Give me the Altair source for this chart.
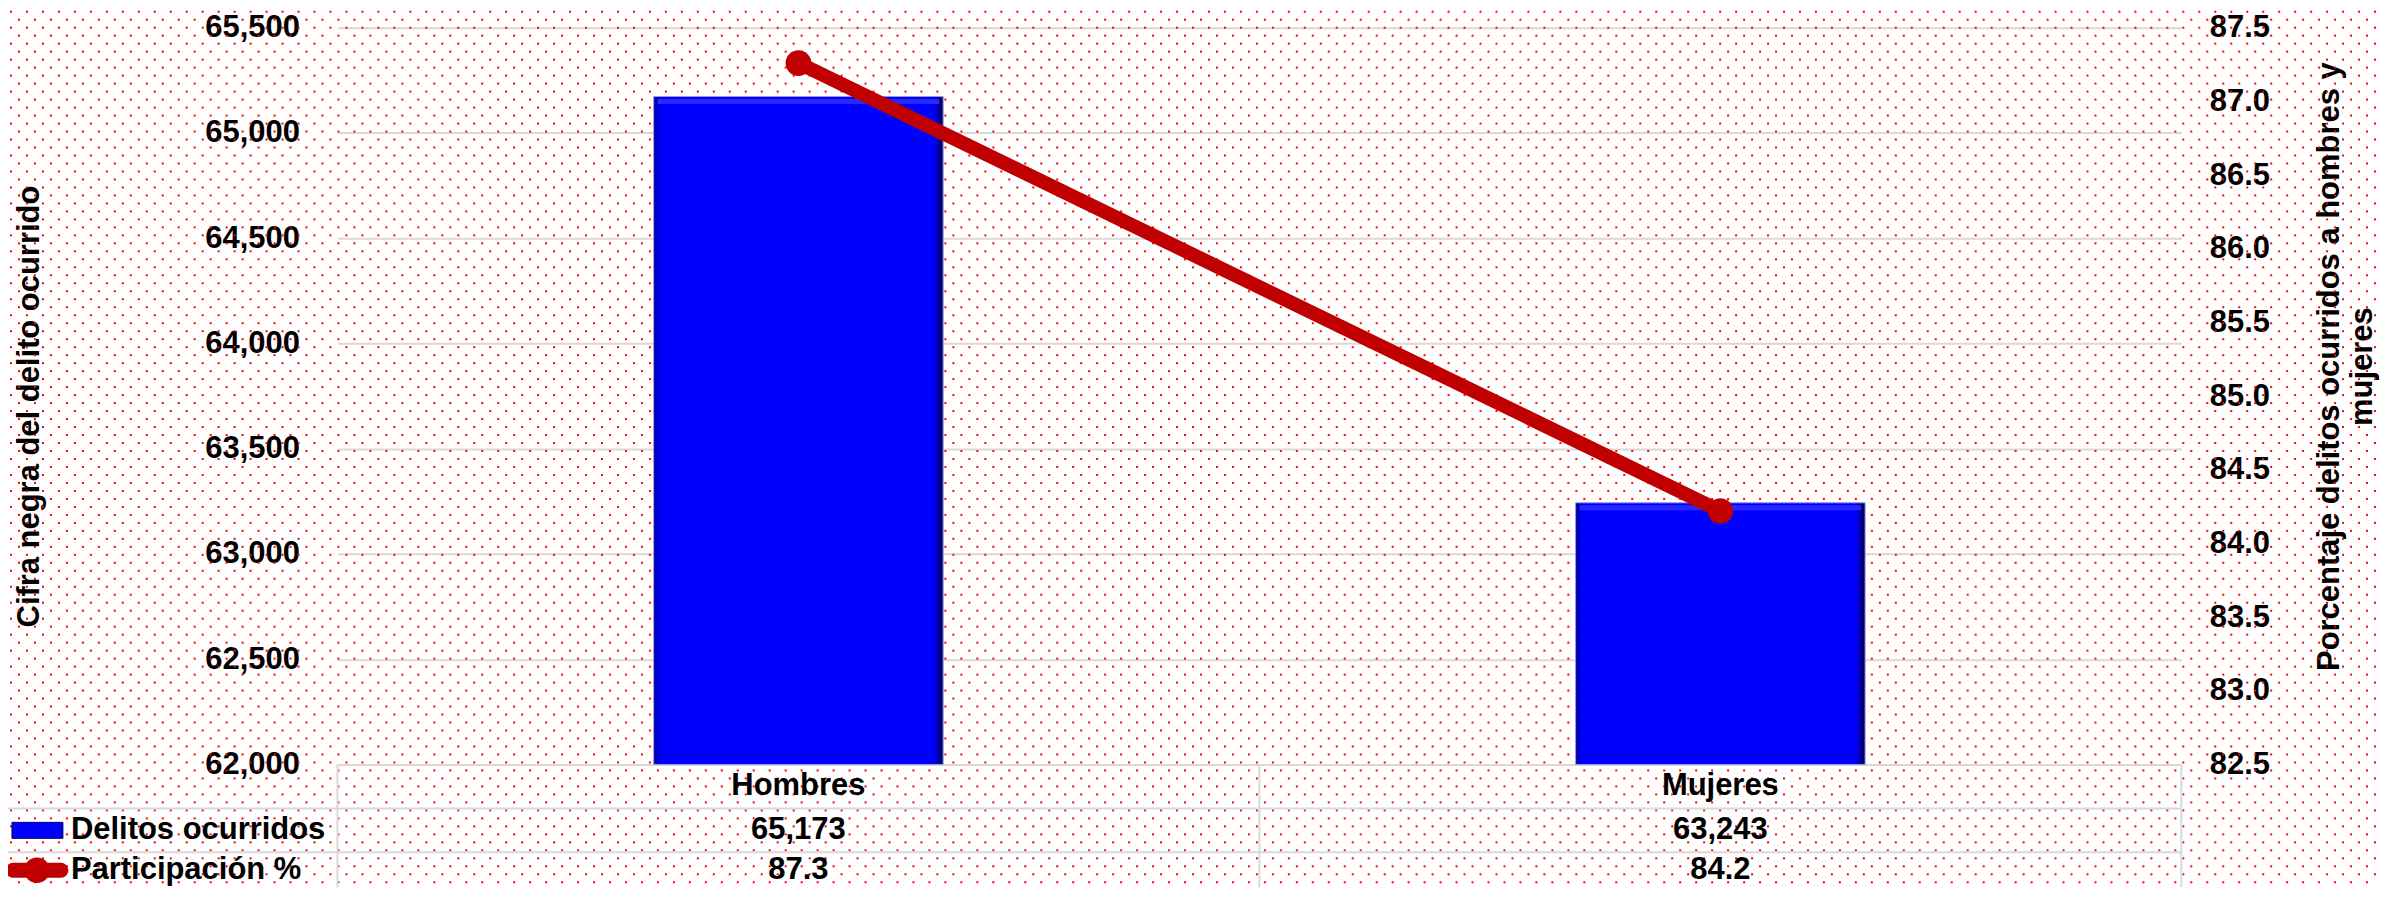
import base64
import altair as alt
import pandas as pd

# ---- data ----
categories = ["Hombres", "Mujeres"]
delitos = [65173, 63243]
participacion = [87.26, 84.22]
series_names = ["Delitos ocurridos", "Participación %"]
left_ticks = [62000, 62500, 63000, 63500, 64000, 64500, 65000, 65500]
right_ticks = [82.5, 83.0, 83.5, 84.0, 84.5, 85.0, 85.5, 86.0, 86.5, 87.0, 87.5]
left_title = "Cifra negra del delito ocurrido"
right_title = ["Porcentaje delitos ocurridos a hombres y", "mujeres"]

df = pd.DataFrame({"cat": categories, "delitos": delitos, "pct": participacion})

# ---- layout / style ----
W, H = 1847, 738
PAD_L, PAD_T, PAD_R, PAD_B = 330, 19, 200, 123
FONT = "Liberation Sans"
FS = 31
GRID = "#D9D9D9"
RED = "#C00000"
ROW_HEAD_Y, ROW1_Y, ROW2_Y = 760, 804, 844
LINE1_Y, LINE2_Y = 782, 826
BOTTOM = H + PAD_B
VW, VH = W + PAD_L + PAD_R, H + PAD_T + PAD_B

# dotted background pattern
svg = (
    f'<svg xmlns="http://www.w3.org/2000/svg" width="{VW}" height="{VH}">'
    '<defs><pattern id="p" width="16" height="16" patternUnits="userSpaceOnUse">'
    '<rect x="2" y="2" width="2" height="2" fill="#FF0000"/>'
    '<rect x="10" y="10" width="2" height="2" fill="#FF0000"/>'
    f'</pattern></defs><rect width="{VW}" height="{VH}" fill="url(#p)"/></svg>'
)
uri = "data:image/svg+xml;base64," + base64.b64encode(svg.encode()).decode()
one = alt.Data(values=[{"a": 1}])

bg = alt.Chart(one).mark_image(
    align="left", baseline="top", aspect=False, width=VW, height=VH, url=uri,
).encode(x=alt.value(-PAD_L), y=alt.value(-PAD_T))

xenc = alt.X("cat:N", sort=categories, axis=None,
             scale=alt.Scale(paddingInner=0, paddingOuter=0))

grad = alt.LinearGradient(
    gradient="linear", x1=0, x2=1, y1=0, y2=0,
    stops=[
        alt.GradientStop(color="#00009A", offset=0.0),
        alt.GradientStop(color="#0000FF", offset=0.025),
        alt.GradientStop(color="#0000FF", offset=0.965),
        alt.GradientStop(color="#00008A", offset=0.99),
        alt.GradientStop(color="#000040", offset=1.0),
    ],
)

lscale = alt.Scale(domain=[62000, 65500], zero=False, nice=False, clamp=True)
left_axis = alt.Axis(
    values=left_ticks, format=",.0f", title=left_title, orient="left",
    grid=True, gridColor=GRID, gridWidth=2, domain=False, ticks=False,
    labelPadding=38, labelFont=FONT, labelFontSize=FS, labelFontWeight="bold",
    labelColor="black", titleFont=FONT, titleFontSize=FS, titleFontWeight="bold",
    titleColor="black", titleAngle=270, titleX=-308, titleY=379,
    titleAlign="center", titleBaseline="middle",
)
yleft = alt.Y("delitos:Q", scale=lscale, axis=left_axis)

bars = alt.Chart(df).mark_bar(size=290, color=grad, stroke="#9C9CDC", strokeWidth=1).encode(
    x=xenc, y=yleft
)
bevel = alt.Chart(df).mark_tick(size=282, thickness=5, yOffset=5, color="#3A3AFF").encode(
    x=xenc, y=yleft
)
bar_layer = alt.layer(bars, bevel)

rscale = alt.Scale(domain=[82.5, 87.5], zero=False, nice=False)
right_axis = alt.Axis(
    values=right_ticks, format=".1f", title=right_title, orient="right",
    grid=False, domain=False, ticks=False,
    labelPadding=28, labelFont=FONT, labelFontSize=FS, labelFontWeight="bold",
    labelColor="black", titleFont=FONT, titleFontSize=31, titleFontWeight="bold",
    titleColor="black", titleAngle=270, titleX=148, titleY=339,
    titleAlign="center", titleBaseline="middle", titleLineHeight=33,
)
yright = alt.Y("pct:Q", scale=rscale, axis=right_axis)
line = alt.Chart(df).mark_line(color=RED, strokeWidth=14, strokeCap="round").encode(x=xenc, y=yright)
pts = alt.Chart(df).mark_circle(color=RED, size=660, opacity=1).encode(x=xenc, y=yright)
line_layer = alt.layer(line, pts)

txt = dict(font=FONT, fontSize=FS, fontWeight="bold", color="black", baseline="middle")
head = alt.Chart(df).mark_text(**txt).encode(x=xenc, y=alt.value(ROW_HEAD_Y), text="cat:N")
row1 = alt.Chart(df).mark_text(**txt).encode(x=xenc, y=alt.value(ROW1_Y), text=alt.Text("delitos:Q", format=",.0f"))
row2 = alt.Chart(df).mark_text(**txt).encode(x=xenc, y=alt.value(ROW2_Y), text=alt.Text("pct:Q", format=".1f"))


def rule(x, x2, y, y2, color=GRID, w=2):
    return alt.Chart(one).mark_rule(color=color, strokeWidth=w).encode(
        x=alt.value(x), x2=alt.value(x2), y=alt.value(y), y2=alt.value(y2)
    )


rules = [
    rule(-335, W, LINE1_Y, LINE1_Y),
    rule(-335, W, LINE2_Y, LINE2_Y),
    rule(0, 0, H, BOTTOM),
    rule(W / 2, W / 2, H, BOTTOM),
    rule(W, W, H, BOTTOM),
    rule(-335, -335, LINE1_Y, BOTTOM),
]

leg_rect = alt.Chart(one).mark_rect(color=grad, stroke="#000080", strokeWidth=1).encode(
    x=alt.value(-326), x2=alt.value(-275), y=alt.value(ROW1_Y - 8), y2=alt.value(ROW1_Y + 8)
)
leg_line = alt.Chart(one).mark_rule(color=RED, strokeWidth=15, strokeCap="round").encode(
    x=alt.value(-325), x2=alt.value(-277), y=alt.value(ROW2_Y), y2=alt.value(ROW2_Y)
)
leg_pt = alt.Chart(one).mark_circle(color=RED, size=660, opacity=1).encode(
    x=alt.value(-301), y=alt.value(ROW2_Y)
)
leg_t1 = alt.Chart(one).mark_text(align="left", **txt).encode(
    x=alt.value(-267), y=alt.value(ROW1_Y), text=alt.value(series_names[0])
)
leg_t2 = alt.Chart(one).mark_text(align="left", **txt).encode(
    x=alt.value(-267), y=alt.value(ROW2_Y), text=alt.value(series_names[1])
)

chart = alt.layer(
    bg, bar_layer, line_layer, head, row1, row2, *rules,
    leg_rect, leg_line, leg_pt, leg_t1, leg_t2,
).resolve_scale(y="independent").properties(
    width=W, height=H,
    autosize=alt.AutoSizeParams(type="none"),
    padding={"left": PAD_L, "top": PAD_T, "right": PAD_R, "bottom": PAD_B},
    background="white",
).configure_view(stroke=None)

chart.save("out.html", embed_options={"renderer": "svg", "actions": False})
